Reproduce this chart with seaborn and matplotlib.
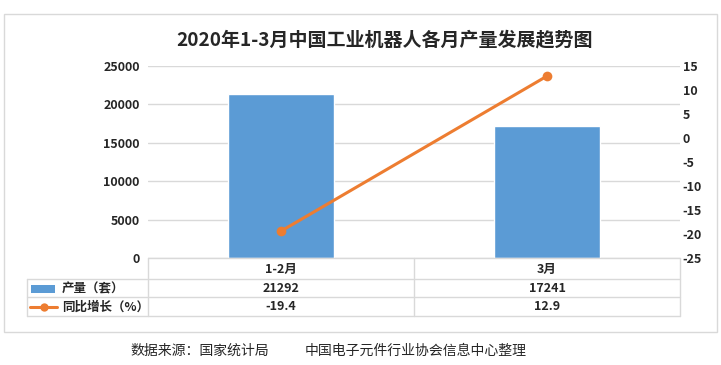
import matplotlib
matplotlib.use("Agg")
import matplotlib.pyplot as plt
import matplotlib.transforms as mtransforms
from matplotlib.lines import Line2D
from matplotlib.patches import Rectangle
import seaborn as sns
import pandas as pd

categories = ["1-2月", "3月"]
output_sets = [21292, 17241]
yoy_growth = [-19.4, 12.9]
left_ticks = [0, 5000, 10000, 15000, 20000, 25000]
right_ticks = [-25, -20, -15, -10, -5, 0, 5, 10, 15]
title = "2020年1-3月中国工业机器人各月产量发展趋势图"
series_names = ["产量（套）", "同比增长（%）"]
source_left = "数据来源：国家统计局"
source_right = "中国电子元件行业协会信息中心整理"

sns.set_style("white")
plt.rcParams['font.family'] = ['Noto Sans CJK SC', 'DejaVu Sans']
plt.rcParams['axes.unicode_minus'] = False

BAR = "#5B9BD5"
LINE = "#ED7D31"
GRID = "#D9D9D9"

W, H = 721, 365
fig = plt.figure(figsize=(W / 100, H / 100), dpi=100)

def fx(x):
    return x / W

def fy(y):
    return 1 - y / H

ax = fig.add_axes([fx(148), fy(258), (680 - 148) / W, (258 - 66) / H])
df = pd.DataFrame({"cat": categories, "val": output_sets})
sns.barplot(data=df, x="cat", y="val", color=BAR, saturation=1, width=0.4, ax=ax)
ax.set_ylim(0, 25000)
ax.set_yticks(left_ticks)
ax.set_xlim(-0.5, 1.5)
ax.set_xlabel("")
ax.set_ylabel("")
ax.set_xticks([])
for s in ax.spines.values():
    s.set_visible(False)
ax.yaxis.grid(True, color=GRID, linewidth=1)
ax.set_axisbelow(True)
ax.tick_params(axis="y", length=0, pad=6, labelsize=9)
for t in ax.get_yticklabels():
    t.set_fontweight("bold")

ax2 = ax.twinx()
df2 = pd.DataFrame({"x": [0, 1], "val": yoy_growth})
sns.lineplot(data=df2, x="x", y="val", color=LINE, linewidth=2.2, marker="o",
             markersize=7, markeredgewidth=0, ax=ax2)
ax2.set_ylim(-25, 15)
ax2.set_yticks(right_ticks)
ax2.set_xlim(-0.5, 1.5)
ax2.set_xlabel("")
ax2.set_ylabel("")
for s in ax2.spines.values():
    s.set_visible(False)
ax2.tick_params(axis="y", length=0, pad=2, labelsize=9)
for t in ax2.get_yticklabels():
    t.set_fontweight("bold")

# Data table below the axes
tr = mtransforms.blended_transform_factory(ax.transData, fig.transFigure)
line_kw = dict(color=GRID, linewidth=1)
row_y = [258, 279, 297, 316]
fig.add_artist(Line2D([fx(148), fx(680)], [fy(258), fy(258)], **line_kw))
for y in row_y[1:]:
    fig.add_artist(Line2D([fx(27), fx(680)], [fy(y), fy(y)], **line_kw))
for xd in [-0.5, 0.5, 1.5]:
    fig.add_artist(Line2D([xd, xd], [fy(258), fy(316)], transform=tr, **line_kw))
fig.add_artist(Line2D([fx(27), fx(27)], [fy(279), fy(316)], **line_kw))

cell_kw = dict(transform=tr, ha="center", va="center", fontsize=9, fontweight="bold")
for i, c in enumerate(categories):
    fig.text(i, fy(269), c, **cell_kw)
    fig.text(i, fy(288.5), f"{output_sets[i]}", **cell_kw)
    fig.text(i, fy(307), f"{yoy_growth[i]}", **cell_kw)

fig.add_artist(Rectangle((fx(31), fy(292.5)), fx(24), (292.5 - 284.5) / H,
                         facecolor=BAR, edgecolor="none", transform=fig.transFigure))
fig.add_artist(Line2D([fx(30), fx(57)], [fy(307), fy(307)], color=LINE, linewidth=2.2))
fig.add_artist(Line2D([fx(43.5)], [fy(307)], color=LINE, marker="o", markersize=6,
                      markeredgewidth=0, linestyle="none"))
fig.text(fx(62), fy(288.5), series_names[0], ha="left", va="center", fontsize=9, fontweight="bold")
fig.text(fx(62), fy(307), series_names[1], ha="left", va="center", fontsize=9, fontweight="bold")

fig.text(fx(385), fy(40), title, ha="center", va="center", fontsize=13.7, fontweight="bold")

fig.add_artist(Rectangle((fx(4), fy(332)), (717 - 4) / W, (332 - 14) / H,
                         facecolor="none", edgecolor=GRID, linewidth=1,
                         transform=fig.transFigure))

fig.text(fx(130), fy(351), source_left, ha="left", va="center", fontsize=10)
fig.text(fx(305), fy(351), source_right, ha="left", va="center", fontsize=10)

fig.savefig("out.png", dpi=100)
